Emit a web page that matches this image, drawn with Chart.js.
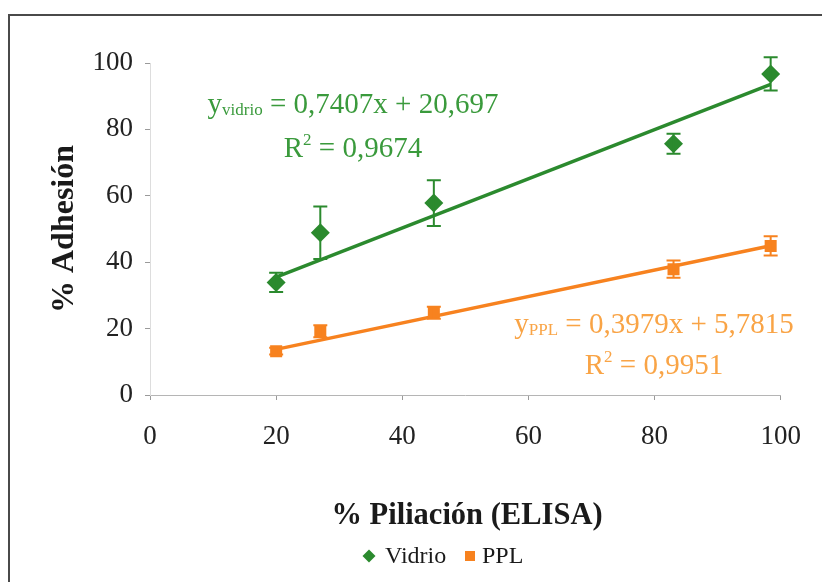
<!DOCTYPE html>
<html>
<head>
<meta charset="utf-8">
<script src="https://cdn.jsdelivr.net/npm/chart.js@4/dist/chart.umd.min.js"></script>
<style>
  html, body { margin: 0; padding: 0; background: #ffffff; }
  canvas { display: block; }
</style>
</head>
<body>
<canvas id="chart" width="822" height="582"></canvas>
<script>
// Adhesión vs. piliación (ELISA), with standard-deviation bars and linear fits
const seriesNames = ['Vidrio', 'PPL'];
const piliacion = [20, 27, 45, 83, 98.4];
const adhesionVidrio = [33.9, 48.9, 57.8, 75.7, 96.7];
const errorVidrio = [2.9, 7.9, 6.9, 3.0, 5.0];
const adhesionPPL = [13.2, 19.2, 24.8, 37.9, 44.9];
const errorPPL = [1.0, 1.8, 1.8, 2.6, 2.9];
const fitVidrio = [0.7407, 20.697];   // slope, intercept
const fitPPL = [0.3979, 5.7815];      // slope, intercept
const r2Vidrio = 0.9674;
const r2PPL = 0.9951;
const xTicks = [0, 20, 40, 60, 80, 100];
const yTicks = [0, 20, 40, 60, 80, 100];
const xTitle = '% Piliación (ELISA)';
const yTitle = '% Adhesión';

const GREEN = '#2b8a2e';
const GREEN_TEXT = '#3a9a3c';
const ORANGE = '#f7821f';
const ORANGE_TEXT = '#f9a446';
const SERIF = '"Liberation Serif", "Times New Roman", serif';

const toPoints = (ys) => piliacion.map((x, i) => ({ x: x, y: ys[i] }));
const fitLine = (coef) => {
  const x0 = Math.min(...piliacion), x1 = Math.max(...piliacion);
  return [{ x: x0, y: coef[0] * x0 + coef[1] }, { x: x1, y: coef[0] * x1 + coef[1] }];
};
const fmt = (n) => String(n).replace('.', ',');

// vertical error bars with caps
const errorBars = {
  id: 'errorBars',
  afterDatasetsDraw(chart) {
    const { ctx, scales: { x, y } } = chart;
    const sets = [[adhesionVidrio, errorVidrio, GREEN], [adhesionPPL, errorPPL, ORANGE]];
    ctx.save();
    ctx.lineWidth = 2;
    sets.forEach(([vals, errs, color]) => {
      ctx.strokeStyle = color;
      vals.forEach((v, i) => {
        const px = x.getPixelForValue(piliacion[i]);
        const top = y.getPixelForValue(v + errs[i]);
        const bot = y.getPixelForValue(v - errs[i]);
        ctx.beginPath();
        ctx.moveTo(px, top); ctx.lineTo(px, bot);
        ctx.moveTo(px - 7, top); ctx.lineTo(px + 7, top);
        ctx.moveTo(px - 7, bot); ctx.lineTo(px + 7, bot);
        ctx.stroke();
      });
    });
    ctx.restore();
  }
};

function drawEquation(ctx, sub, coef, r2, cx, baseline, gap, color) {
  const big = '29px ' + SERIF, small = '17px ' + SERIF, sup = '17px ' + SERIF;
  const rest = ' = ' + fmt(coef[0]) + 'x + ' + fmt(coef[1]);
  ctx.fillStyle = color;
  ctx.textBaseline = 'alphabetic';
  ctx.textAlign = 'left';
  ctx.font = big; const wy = ctx.measureText('y').width; const wr = ctx.measureText(rest).width;
  ctx.font = small; const ws = ctx.measureText(sub).width;
  let x0 = cx - (wy + ws + wr) / 2;
  ctx.font = big; ctx.fillText('y', x0, baseline);
  ctx.font = small; ctx.fillText(sub, x0 + wy, baseline + 2);
  ctx.font = big; ctx.fillText(rest, x0 + wy + ws, baseline);

  const rest2 = ' = ' + fmt(r2);
  ctx.font = big; const wR = ctx.measureText('R').width; const w2 = ctx.measureText(rest2).width;
  ctx.font = sup; const wS = ctx.measureText('2').width;
  const b2 = baseline + gap;
  x0 = cx - (wR + wS + w2) / 2;
  ctx.font = big; ctx.fillText('R', x0, b2);
  ctx.font = sup; ctx.fillText('2', x0 + wR, b2 - 12);
  ctx.font = big; ctx.fillText(rest2, x0 + wR + wS, b2);
}

const decorations = {
  id: 'decorations',
  afterDraw(chart) {
    const { ctx, chartArea: a } = chart;
    ctx.save();
    // outer frame
    ctx.strokeStyle = '#4a4a4a';
    ctx.lineWidth = 2;
    ctx.strokeRect(9, 15, 900, 900);

    // fit equations
    drawEquation(ctx, 'vidrio', fitVidrio, r2Vidrio, 353, 113, 44, GREEN_TEXT);
    drawEquation(ctx, 'PPL', fitPPL, r2PPL, 654, 333, 41, ORANGE_TEXT);

    // axis titles
    ctx.fillStyle = '#1a1a1a';
    ctx.textAlign = 'center';
    ctx.textBaseline = 'alphabetic';
    ctx.font = 'bold 30.5px ' + SERIF;
    ctx.fillText(xTitle, 467, 524);
    ctx.save();
    ctx.translate(73, 229);
    ctx.rotate(-Math.PI / 2);
    ctx.font = 'bold 32px ' + SERIF;
    ctx.fillText(yTitle, 0, 0);
    ctx.restore();

    // legend
    const ly = 556;
    ctx.font = '24px ' + SERIF;
    ctx.textAlign = 'left';
    ctx.textBaseline = 'middle';
    ctx.fillStyle = GREEN;
    ctx.beginPath();
    ctx.moveTo(369, ly - 6.5); ctx.lineTo(375.5, ly); ctx.lineTo(369, ly + 6.5); ctx.lineTo(362.5, ly);
    ctx.closePath(); ctx.fill();
    ctx.fillStyle = '#1a1a1a';
    ctx.fillText(seriesNames[0], 385, ly + 1);
    ctx.fillStyle = ORANGE;
    ctx.fillRect(465, ly - 5, 10, 10);
    ctx.fillStyle = '#1a1a1a';
    ctx.fillText(seriesNames[1], 482, ly + 1);
    ctx.restore();
  }
};

const tickFont = { family: SERIF, size: 27 };

new Chart(document.getElementById('chart'), {
  type: 'scatter',
  data: {
    datasets: [
      {
        label: seriesNames[0], data: toPoints(adhesionVidrio), order: 0,
        pointStyle: 'rectRot', pointRadius: 9.5, backgroundColor: GREEN, borderColor: GREEN, borderWidth: 0
      },
      {
        label: seriesNames[1], data: toPoints(adhesionPPL), order: 0,
        pointStyle: 'rect', pointRadius: 8.5, backgroundColor: ORANGE, borderColor: ORANGE, borderWidth: 0
      },
      {
        type: 'line', label: 'fit ' + seriesNames[0], data: fitLine(fitVidrio), order: 1,
        borderColor: GREEN, borderWidth: 3.5, pointRadius: 0, fill: false
      },
      {
        type: 'line', label: 'fit ' + seriesNames[1], data: fitLine(fitPPL), order: 1,
        borderColor: ORANGE, borderWidth: 3.5, pointRadius: 0, fill: false
      }
    ]
  },
  options: {
    responsive: false,
    animation: false,
    devicePixelRatio: 1,
    layout: { padding: { top: 63, right: 35, left: 0, bottom: 0 } },
    plugins: { legend: { display: false }, tooltip: { enabled: false } },
    scales: {
      x: {
        type: 'linear', min: 0, max: 100,
        afterBuildTicks: (s) => { s.ticks = xTicks.map(v => ({ value: v })); },
        afterFit: (s) => { s.height = 187; },
        ticks: { font: tickFont, color: '#222', padding: 21, maxRotation: 0 },
        grid: { drawOnChartArea: false, drawTicks: true, tickLength: 5, tickColor: '#9a9a9a' },
        border: { display: true, color: '#b5b5b5', width: 1 }
      },
      y: {
        type: 'linear', min: 0, max: 100,
        afterBuildTicks: (s) => { s.ticks = yTicks.map(v => ({ value: v })); },
        afterFit: (s) => { s.width = 150; },
        ticks: { font: tickFont, color: '#222', padding: 12 },
        grid: { drawOnChartArea: false, drawTicks: true, tickLength: 5, tickColor: '#9a9a9a' },
        border: { display: true, color: '#dddddd', width: 1 }
      }
    }
  },
  plugins: [errorBars, decorations]
});
</script>
</body>
</html>
